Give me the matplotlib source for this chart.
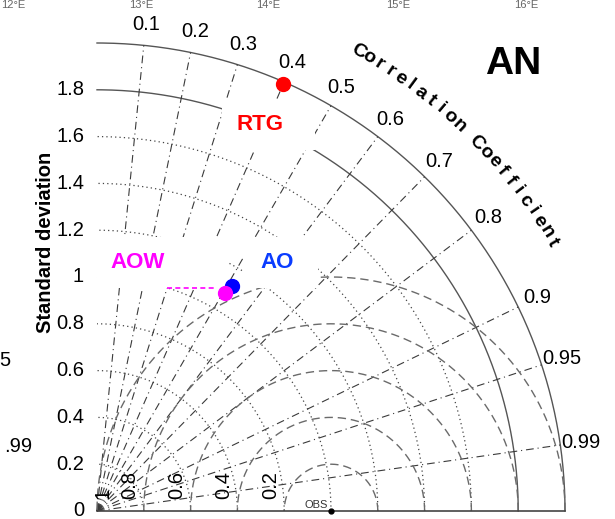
import numpy as np
import matplotlib.pyplot as plt
from matplotlib.patches import Rectangle

plt.rcParams['font.family'] = ['Liberation Sans', 'DejaVu Sans']

# Taylor diagram data (std dev normalised by obs, correlation)
models = ["RTG", "AO", "AOW"]
model_std = [1.99, 1.12, 1.08]
model_corr = [0.40, 0.515, 0.508]
marker_colors = ["#ff0000", "#0000ff", "#ff00ff"]
label_colors = ["#ff0000", "#0a3cff", "#ff00ff"]

obs_std = 1.0
std_ticks = [0, 0.2, 0.4, 0.6, 0.8, 1.0, 1.2, 1.4, 1.6, 1.8]
std_ticklabels = ["0", "0.2", "0.4", "0.6", "0.8", "1", "1.2", "1.4", "1.6", "1.8"]
std_dotted = [0.2, 0.4, 0.6, 0.8, 1.0, 1.2, 1.4, 1.6]
std_solid = [1.8, 2.0]
corr_ticks = [0.1, 0.2, 0.3, 0.4, 0.5, 0.6, 0.7, 0.8, 0.9, 0.95, 0.99]
corr_ticklabels = ["0.1", "0.2", "0.3", "0.4", "0.5", "0.6", "0.7", "0.8", "0.9", "0.95", "0.99"]
rms_levels = np.array([0.2, 0.4, 0.6, 0.8, 1.0])
rms_labels = ["0.2", "0.4", "0.6", "0.8", "1"]
aow_trace_x = [0.30, 0.50]
aow_trace_y = [0.953, 0.953]

# visible bits of the neighbouring panels (cut by the crop)
lon_labels = ["12°E", "13°E", "14°E", "15°E", "16°E"]
left_panel_labels = ["5", ".99"]

# pixel layout: origin at (97, 511), 234 px per unit
S = 234.0
fig = plt.figure(figsize=(6.15, 5.19), dpi=100)
ax = fig.add_axes([0, 0, 1, 1])
ax.set_xlim(-97 / S, 518 / S)
ax.set_ylim(-8 / S, 511 / S)
ax.axis('off')

def px(x, y):
    return (x - 97) / S, (511 - y) / S

rmax = 2.0
t = np.linspace(0, np.pi / 2, 400)

# std dev arcs
for r in std_dotted:
    ax.plot(r * np.cos(t), r * np.sin(t), color='#444444', ls=(0, (1, 2.5)), lw=0.9, zorder=1)
for r in std_solid:
    ax.plot(r * np.cos(t), r * np.sin(t), color='#555555', ls='-', lw=1.0, zorder=1)

# correlation spokes
for c in corr_ticks:
    th = np.arccos(c)
    ax.plot([0, rmax * np.cos(th)], [0, rmax * np.sin(th)], color='#3a3a3a',
            ls=(0, (7, 3.5, 1, 3.5)), lw=0.8, zorder=1)

# centred RMS circles around OBS
phi = np.linspace(0, np.pi, 400)
for rho in rms_levels:
    ax.plot(obs_std + rho * np.cos(phi), rho * np.sin(phi), color='#6a6a6a',
            ls=(0, (6, 3.5)), lw=1.0, zorder=1)

# x axis
ax.plot([0, rmax], [0, 0], color='#444444', lw=1.2, zorder=3)

# white label boxes that hide the grid
for (x0, y0, x1, y1) in [(97, 288, 229, 237), (243, 288, 318, 237), (222, 150, 315, 100)]:
    a, b = px(x0, y0)
    c, d = px(x1, y1)
    ax.add_patch(Rectangle((a, b), c - a, d - b, facecolor='white', edgecolor='none', zorder=2))

# y tick labels
for v, lab in zip(std_ticks, std_ticklabels):
    ax.text(-13 / S, v, lab, ha='right', va='center', fontsize=14.5, zorder=4)

# correlation labels
for c, lab in zip(corr_ticks, corr_ticklabels):
    th = np.arccos(c)
    ax.text(2.09 * np.cos(th), 2.09 * np.sin(th), lab, ha='center', va='center',
            fontsize=14.5, zorder=4)

# RMS labels
lab_x = np.maximum(obs_std - rms_levels - 0.058, 0.026)
for x, lab in zip(lab_x, rms_labels):
    ax.text(x, 0.051, lab, rotation=90, ha='center', va='bottom', fontsize=14.5, zorder=4)

# curved axis title
title = "Correlation Coefficient"
angs = np.linspace(np.radians(60.4), np.radians(30.5), len(title))
for ch, a in zip(title, angs):
    ax.text(2.26 * np.cos(a), 2.26 * np.sin(a), ch, rotation=np.degrees(a) - 90,
            ha='center', va='center', fontsize=14, fontweight='bold', zorder=4)

ax.text(*px(45, 242), "Standard deviation", rotation=90, ha='center', va='center',
        fontsize=14.5, fontweight='bold')

# OBS
ax.plot([obs_std], [0], 'o', color='black', ms=3.5, zorder=5)
ax.text(0.987, 0.013, "OBS", ha='right', va='baseline', fontsize=8, color='#333333', zorder=4)

# model points
ax.plot(aow_trace_x, aow_trace_y, color='#ff00ff', ls=(0, (3, 2)), lw=1.2, zorder=4)
for m, s, c, col in zip(models, model_std, model_corr, marker_colors):
    th = np.arccos(c)
    ax.plot(s * np.cos(th), s * np.sin(th), 'o', color=col, ms=10, mec=col, zorder=5)

label_pos = [(260, 125), (277, 263), (138, 263)]
for m, col, (lx, ly) in zip(models, label_colors, label_pos):
    ax.text(*px(lx, ly), m, color=col, ha='center', va='center', fontsize=16,
            fontweight='bold', zorder=6)

ax.text(*px(513, 64), "AN", ha='center', va='center', fontsize=28, fontweight='bold')

# labels of surrounding panels
ax.text(*px(1, 0.5), lon_labels[0], ha='left', va='top', fontsize=8, color='#666666')
for lab, x in zip(lon_labels[1:], [141, 268, 398, 526]):
    ax.text(*px(x, 0.5), lab, ha='center', va='top', fontsize=8, color='#666666')
for lab, (x, y) in zip(left_panel_labels, [(10, 360), (32, 447)]):
    ax.text(*px(x, y), lab, ha='right', va='center', fontsize=14.5)

fig.savefig('out.png', dpi=100)
